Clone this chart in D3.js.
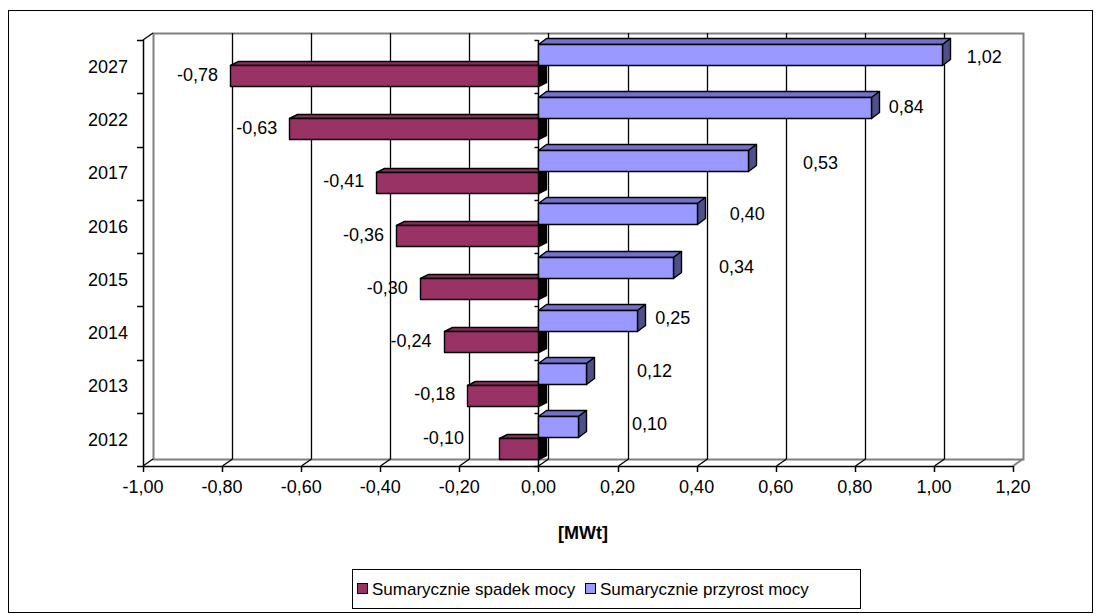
<!DOCTYPE html>
<html>
<head>
<meta charset="utf-8">
<script src="https://cdn.jsdelivr.net/npm/d3@7"></script>
<style>
  body { margin: 0; background: #fff; }
  svg { display: block; }
  text { font-family: "Liberation Sans", Arial, sans-serif; fill: #000; }
</style>
</head>
<body>
<svg id="chart" width="1103" height="614"></svg>
<script>
// Years on the category axis (bottom to top)
const years = ["2012", "2013", "2014", "2015", "2016", "2017", "2022", "2027"];
// Cumulative power decrease [MWt]
const spadek = [-0.10, -0.18, -0.24, -0.30, -0.36, -0.41, -0.63, -0.78];
// Cumulative power increase [MWt]
const przyrost = [0.10, 0.12, 0.25, 0.34, 0.40, 0.53, 0.84, 1.02];
// Value axis ticks
const valueTicks = [-1.0, -0.8, -0.6, -0.4, -0.2, 0.0, 0.2, 0.4, 0.6, 0.8, 1.0, 1.2];
const seriesNames = ["Sumarycznie spadek mocy", "Sumarycznie przyrost mocy"];
const axisTitle = "[MWt]";

// Hand-placed data label nudges (px), as the labels were dragged in the sheet
const nudgeSpadekX = [-23, 0, 0, 0, 0, 0, 0, 0];
const nudgeSpadekY = [-10, 0, 0, 0, 0, 0, 0, 0];
const nudgePrzyrostX = [36, 33, 0, 28, 15, 37, 0, 7];
const nudgePrzyrostY = [-3, -2, -2, 0, 0, 3, 0, 3];

(function draw() {
  const fmt = v => d3.format(".2f")(v).replace(".", ",").replace("−", "-");
  const px = v => Math.round(v) + 0.5;   // snap 1px strokes to the pixel grid

  const svg = d3.select("#chart");

  // Outer chart frame
  svg.append("rect").attr("x", 8.5).attr("y", 10.5).attr("width", 1084).attr("height", 602)
    .attr("fill", "#fff").attr("stroke", "#000").attr("stroke-width", 1);

  // Front plane of the 3D plot and depth offset
  const pLeft = 143, pRight = 1013, pTop = 40, pBottom = 466;
  const dx = 10, dy = -7;

  const x = d3.scaleLinear().domain([-1, 1.2]).range([pLeft, pRight]);
  const y = d3.scaleBand().domain(years.slice().reverse()).range([pTop, pBottom]).padding(0);
  const sub = d3.scaleBand().domain(["przyrost", "spadek"]).range([0, y.bandwidth()]).paddingOuter(0.24);
  const subShift = -1.5;

  const g = svg.append("g");

  // Back wall
  g.append("rect").attr("x", pLeft + dx + 0.5).attr("y", pTop + dy + 0.5)
    .attr("width", pRight - pLeft).attr("height", pBottom - pTop)
    .attr("fill", "#fff").attr("stroke", "#808080").attr("stroke-width", 2);

  // Gridlines on back wall and floor
  const inner = valueTicks.filter(v => v > -1 && v < 1.2);
  g.selectAll(".grid").data(inner).join("line")
    .attr("x1", d => px(x(d) + dx)).attr("x2", d => px(x(d) + dx))
    .attr("y1", pTop + dy).attr("y2", pBottom + dy)
    .attr("stroke", "#000").attr("stroke-width", 1.3);
  g.selectAll(".floorgrid").data(inner).join("line")
    .attr("x1", d => px(x(d))).attr("x2", d => px(x(d) + dx))
    .attr("y1", pBottom).attr("y2", pBottom + dy)
    .attr("stroke", "#000").attr("stroke-width", 1.3);

  // Floor edges
  g.append("line").attr("x1", pRight).attr("y1", pBottom).attr("x2", pRight + dx).attr("y2", pBottom + dy)
    .attr("stroke", "#808080").attr("stroke-width", 2);
  g.append("line").attr("x1", pLeft).attr("y1", pBottom).attr("x2", pLeft + dx).attr("y2", pBottom + dy)
    .attr("stroke", "#000").attr("stroke-width", 1.3);
  // Left wall top edge
  g.append("line").attr("x1", pLeft).attr("y1", pTop).attr("x2", pLeft + dx).attr("y2", pTop + dy)
    .attr("stroke", "#000").attr("stroke-width", 1.3);

  // Category axis at the left wall
  g.append("line").attr("x1", px(pLeft)).attr("x2", px(pLeft)).attr("y1", pTop).attr("y2", pBottom)
    .attr("stroke", "#000").attr("stroke-width", 1.5);
  const edges = years.map(c => y(c)).concat([pBottom]);
  g.selectAll(".ctick").data(edges).join("line")
    .attr("x1", pLeft - 6).attr("x2", pLeft).attr("y1", d => px(d)).attr("y2", d => px(d))
    .attr("stroke", "#000").attr("stroke-width", 1.5);

  // Category axis line where values cross zero
  g.append("line").attr("x1", px(x(0))).attr("x2", px(x(0))).attr("y1", pTop).attr("y2", pBottom)
    .attr("stroke", "#000").attr("stroke-width", 1.5);
  g.selectAll(".ztick").data(edges).join("line")
    .attr("x1", x(0) - 4).attr("x2", x(0)).attr("y1", d => px(d)).attr("y2", d => px(d))
    .attr("stroke", "#000").attr("stroke-width", 1.5);

  // Value axis along the front floor edge
  g.append("line").attr("x1", pLeft).attr("x2", pRight).attr("y1", px(pBottom)).attr("y2", px(pBottom))
    .attr("stroke", "#000").attr("stroke-width", 1.5);
  g.selectAll(".vtick").data(valueTicks).join("line")
    .attr("x1", d => px(x(d))).attr("x2", d => px(x(d))).attr("y1", pBottom).attr("y2", pBottom + 6)
    .attr("stroke", "#000").attr("stroke-width", 1.5);
  g.selectAll(".vlabel").data(valueTicks).join("text")
    .attr("x", d => x(d)).attr("y", pBottom + 21).attr("dy", "0.35em")
    .attr("text-anchor", "middle").attr("font-size", 18)
    .text(d => fmt(d));

  // Category labels
  g.selectAll(".clabel").data(years).join("text")
    .attr("x", pLeft - 15).attr("y", d => y(d) + y.bandwidth() / 2).attr("dy", "0.35em")
    .attr("text-anchor", "end").attr("font-size", 18)
    .text(d => d);

  // 3D bar: front face, top face, right end face
  function bar3d(sel, x0, x1, y0, y1, ddx, ddy, cFront, cTop, cSide) {
    const face = (pts, fill) => sel.append("path").attr("d", d3.line()(pts) + "Z")
      .attr("fill", fill).attr("stroke", "#000").attr("stroke-width", 1.4)
      .attr("stroke-linejoin", "round");
    face([[x0, y0], [x0 + ddx, y0 + ddy], [x1 + ddx, y0 + ddy], [x1, y0]], cTop);
    face([[x1, y0], [x1 + ddx, y0 + ddy], [x1 + ddx, y1 + ddy], [x1, y1]], cSide);
    face([[x0, y0], [x1, y0], [x1, y1], [x0, y1]], cFront);
  }

  const bars = svg.append("g");
  years.slice().reverse().forEach(c => {
    const i = years.indexOf(c);
    const b = bars.append("g");
    // decrease bar (negative)
    const ys = Math.round(y(c) + sub("spadek") + subShift) + 0.5;
    const xs0 = Math.round(x(spadek[i])) + 0.5, xz = Math.round(x(0)) + 0.5;
    bar3d(b, xs0, xz, ys, ys + Math.round(sub.bandwidth()), 8, -4, "#993366", "#8a2e5c", "#000");
    // increase bar (positive)
    const yp = Math.round(y(c) + sub("przyrost") + subShift) + 0.5;
    const xp1 = Math.round(x(przyrost[i])) + 0.5;
    bar3d(b, xz, xp1, yp, yp + Math.round(sub.bandwidth()), 8, -6, "#9999ff", "#7272cc", "#4f4f8a");
  });

  // Data labels
  const labels = svg.append("g").attr("font-size", 18);
  labels.selectAll(".ls").data(years).join("text")
    .attr("x", (d, i) => x(spadek[i]) - 12 + nudgeSpadekX[i])
    .attr("y", (d, i) => y(d) + y.bandwidth() / 2 + 8 + nudgeSpadekY[i]).attr("dy", "0.35em")
    .attr("text-anchor", "end")
    .text((d, i) => fmt(spadek[i]));
  labels.selectAll(".lp").data(years).join("text")
    .attr("x", (d, i) => x(przyrost[i]) + 18 + nudgePrzyrostX[i])
    .attr("y", (d, i) => y(d) + y.bandwidth() / 2 - 13 + nudgePrzyrostY[i]).attr("dy", "0.35em")
    .attr("text-anchor", "start")
    .text((d, i) => fmt(przyrost[i]));

  // Axis title
  svg.append("text").attr("x", (pLeft + pRight) / 2 + 5).attr("y", 533).attr("dy", "0.35em")
    .attr("text-anchor", "middle").attr("font-size", 18).attr("font-weight", "bold")
    .text(axisTitle);

  // Legend
  const lg = svg.append("g");
  const lx = 352, ly = 569, lw = 508, lh = 39;
  lg.append("rect").attr("x", lx + 0.5).attr("y", ly + 0.5).attr("width", lw).attr("height", lh)
    .attr("fill", "#fff").attr("stroke", "#000").attr("stroke-width", 1);
  const legendFills = ["#993366", "#9999ff"];
  const itemX = [lx + 5, lx + 233];
  seriesNames.forEach((name, k) => {
    lg.append("rect").attr("x", itemX[k] + 0.5).attr("y", ly + 14.5).attr("width", 10).attr("height", 10)
      .attr("fill", legendFills[k]).attr("stroke", "#000").attr("stroke-width", 1);
    lg.append("text").attr("x", itemX[k] + 15).attr("y", ly + 20).attr("dy", "0.35em")
      .attr("font-size", 17).text(name);
  });
})();
</script>
</body>
</html>
